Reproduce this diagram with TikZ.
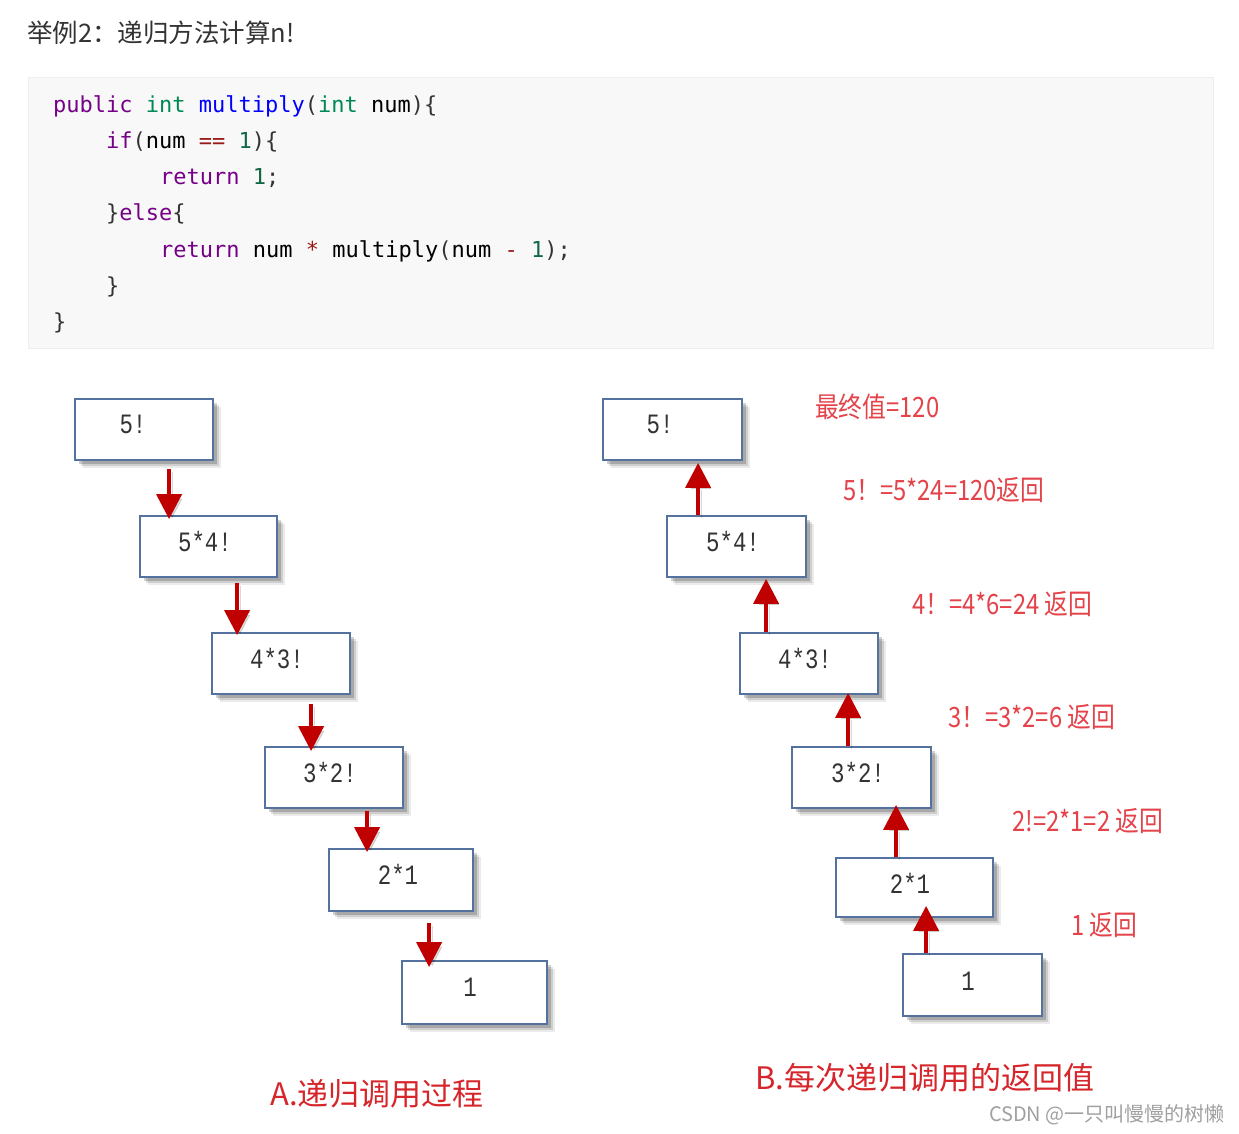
\documentclass[tikz,border=0pt]{standalone}
\usepackage{fontspec}
\setmonofont{DejaVu Sans Mono}
\newfontfamily\cjk{Noto Sans CJK SC}
\newfontfamily\boxfont{Liberation Mono}
\usetikzlibrary{arrows.meta,shadows}
\definecolor{titlec}{HTML}{333333}
\definecolor{codebg}{HTML}{F8F8F8}
\definecolor{codebd}{HTML}{EEEEEE}
\definecolor{kw}{HTML}{770088}
\definecolor{ty}{HTML}{008855}
\definecolor{fn}{HTML}{0000FF}
\definecolor{nm}{HTML}{116644}
\definecolor{op}{HTML}{981A1A}
\definecolor{pn}{HTML}{333333}
\definecolor{boxblue}{HTML}{55719E}
\definecolor{arrred}{HTML}{C00000}
\definecolor{lblred}{HTML}{E4434A}
\definecolor{capred}{HTML}{D6262B}
\definecolor{wm}{HTML}{A0A0A0}
\tikzset{
  codeline/.style={anchor=base west, inner sep=0pt, font=\ttfamily\fontsize{22}{26}\selectfont},
  cbox/.style={draw=boxblue, line width=1.8pt, fill=white, inner sep=0pt,
    drop shadow={shadow xshift=8pt, shadow yshift=-8pt, opacity=0.08, fill=black},
    drop shadow={shadow xshift=6pt, shadow yshift=-6pt, opacity=0.12, fill=black},
    drop shadow={shadow xshift=4pt, shadow yshift=-4pt, opacity=0.18, fill=black}},
  btext/.style={anchor=base, inner sep=0pt, text=titlec, xscale=0.8, font=\boxfont\fontsize{28}{30}\selectfont},
  rarrow/.style={draw=arrred, line width=4pt, -{Triangle[width=25pt,length=25pt]},
    preaction={draw=black, opacity=0.15, transform canvas={xshift=3pt,yshift=-3pt}}},
  rlabel/.style={anchor=west, inner sep=0pt, text=lblred, xscale=0.85, font=\cjk\fontsize{28}{30}\selectfont},
  caption/.style={anchor=west, inner sep=0pt, text=capred, font=\cjk\fontsize{31}{33}\selectfont},
}
\begin{document}
\begin{tikzpicture}[x=1pt,y=-1pt]
\fill[white] (0,0) rectangle (1239,1134);
\useasboundingbox (0,0) rectangle (1239,1134);
% title
\node[anchor=base west, inner sep=0pt, text=titlec, font=\cjk\fontsize{25.5}{28}\selectfont] (title) at (27,43) {举例2：递归方法计算n!};
% code block
\draw[fill=codebg, draw=codebd, line width=1pt] (28,78) rectangle (1213,348);
\node[codeline] (c1) at (53,113) {\textcolor{kw}{public} \textcolor{ty}{int} \textcolor{fn}{multiply}\textcolor{pn}{(}\textcolor{ty}{int} num\textcolor{pn}{)\{}};
\node[codeline] (c2) at (106,149) {\textcolor{kw}{if}\textcolor{pn}{(}num \textcolor{op}{==} \textcolor{nm}{1}\textcolor{pn}{)\{}};
\node[codeline] (c3) at (160,185) {\textcolor{kw}{return} \textcolor{nm}{1}\textcolor{pn}{;}};
\node[codeline] (c4) at (106,221) {\textcolor{pn}{\}}\textcolor{kw}{else}\textcolor{pn}{\{}};
\node[codeline] (c5) at (160,257) {\textcolor{kw}{return} num \textcolor{op}{*} multiply\textcolor{pn}{(}num \textcolor{op}{-} \textcolor{nm}{1}\textcolor{pn}{);}};
\node[codeline] (c6) at (106,293) {\textcolor{pn}{\}}};
\node[codeline] (c7) at (53,329) {\textcolor{pn}{\}}};
% left boxes
\node[cbox, minimum width=138pt, minimum height=61pt] (a1) at (144,429.5) {};
\node[cbox, minimum width=137pt, minimum height=61pt] (a2) at (208.5,546.5) {};
\node[cbox, minimum width=138pt, minimum height=61pt] (a3) at (281,663.5) {};
\node[cbox, minimum width=138pt, minimum height=61pt] (a4) at (334,777.5) {};
\node[cbox, minimum width=144pt, minimum height=62pt] (a5) at (401,880) {};
\node[cbox, minimum width=145pt, minimum height=63pt] (a6) at (474.5,992.5) {};
\node[btext] (a1t) at (133,433) {5!};
\node[btext] (a2t) at (205,551) {5*4!};
\node[btext] (a3t) at (277,668) {4*3!};
\node[btext] (a4t) at (330,782) {3*2!};
\node[btext] (a5t) at (398,884) {2*1};
\node[btext] (a6t) at (470,996) {1};
\draw[rarrow] ([xshift=95pt,yshift=-8pt]a1.south west) -- ([xshift=30pt,yshift=-4pt]a2.north west);
\draw[rarrow] ([xshift=98pt,yshift=-5pt]a2.south west) -- ([xshift=26pt,yshift=-3pt]a3.north west);
\draw[rarrow] ([xshift=100pt,yshift=-9pt]a3.south west) -- ([xshift=47pt,yshift=-5pt]a4.north west);
\draw[rarrow] ([xshift=103pt,yshift=-2pt]a4.south west) -- ([xshift=39pt,yshift=-4pt]a5.north west);
\draw[rarrow] ([xshift=101pt,yshift=-11pt]a5.south west) -- ([xshift=28pt,yshift=-7pt]a6.north west);
% right boxes
\node[cbox, minimum width=139pt, minimum height=61pt] (b1) at (672.5,429.5) {};
\node[cbox, minimum width=139pt, minimum height=61pt] (b2) at (736.5,546.5) {};
\node[cbox, minimum width=138pt, minimum height=61pt] (b3) at (809,663.5) {};
\node[cbox, minimum width=139pt, minimum height=61pt] (b4) at (861.5,777.5) {};
\node[cbox, minimum width=157pt, minimum height=59pt] (b5) at (914.5,887.5) {};
\node[cbox, minimum width=139pt, minimum height=62pt] (b6) at (972.5,985) {};
\node[btext] (b1t) at (660,433) {5!};
\node[btext] (b2t) at (733,551) {5*4!};
\node[btext] (b3t) at (805,668) {4*3!};
\node[btext] (b4t) at (858,782) {3*2!};
\node[btext] (b5t) at (910,893) {2*1};
\node[btext] (b6t) at (968,990) {1};
\draw[rarrow] ([xshift=32pt]b2.north west) -- ([xshift=96pt,yshift=-2pt]b1.south west);
\draw[rarrow] ([xshift=27pt]b3.north west) -- ([xshift=100pt,yshift=-1pt]b2.south west);
\draw[rarrow] ([xshift=57pt]b4.north west) -- ([xshift=109pt,yshift=2pt]b3.south west);
\draw[rarrow] ([xshift=61pt]b5.north west) -- ([xshift=105pt,yshift=4pt]b4.south west);
\draw[rarrow] ([xshift=24pt]b6.north west) -- ([xshift=91pt,yshift=12pt]b5.south west);
% red labels
\node[rlabel] (l0) at (815,407) {最终值=120};
\node[rlabel] (l1) at (843,490) {5！=5*24=120返回};
\node[rlabel] (l2) at (912,604) {4！=4*6=24 返回};
\node[rlabel] (l3) at (948,717) {3！=3*2=6 返回};
\node[rlabel] (l4) at (1012,821) {2!=2*1=2 返回};
\node[rlabel] (l5) at (1071,925) {1 返回};
% captions
\node[caption] (capA) at (270,1094) {A.递归调用过程};
\node[caption] (capB) at (755,1078) {B.每次递归调用的返回值};
\node[anchor=east, inner sep=0pt, text=wm, font=\cjk\fontsize{20}{22}\selectfont] (wmk) at (1225,1115) {CSDN @一只叫慢慢的树懒};
\end{tikzpicture}
\end{document}
